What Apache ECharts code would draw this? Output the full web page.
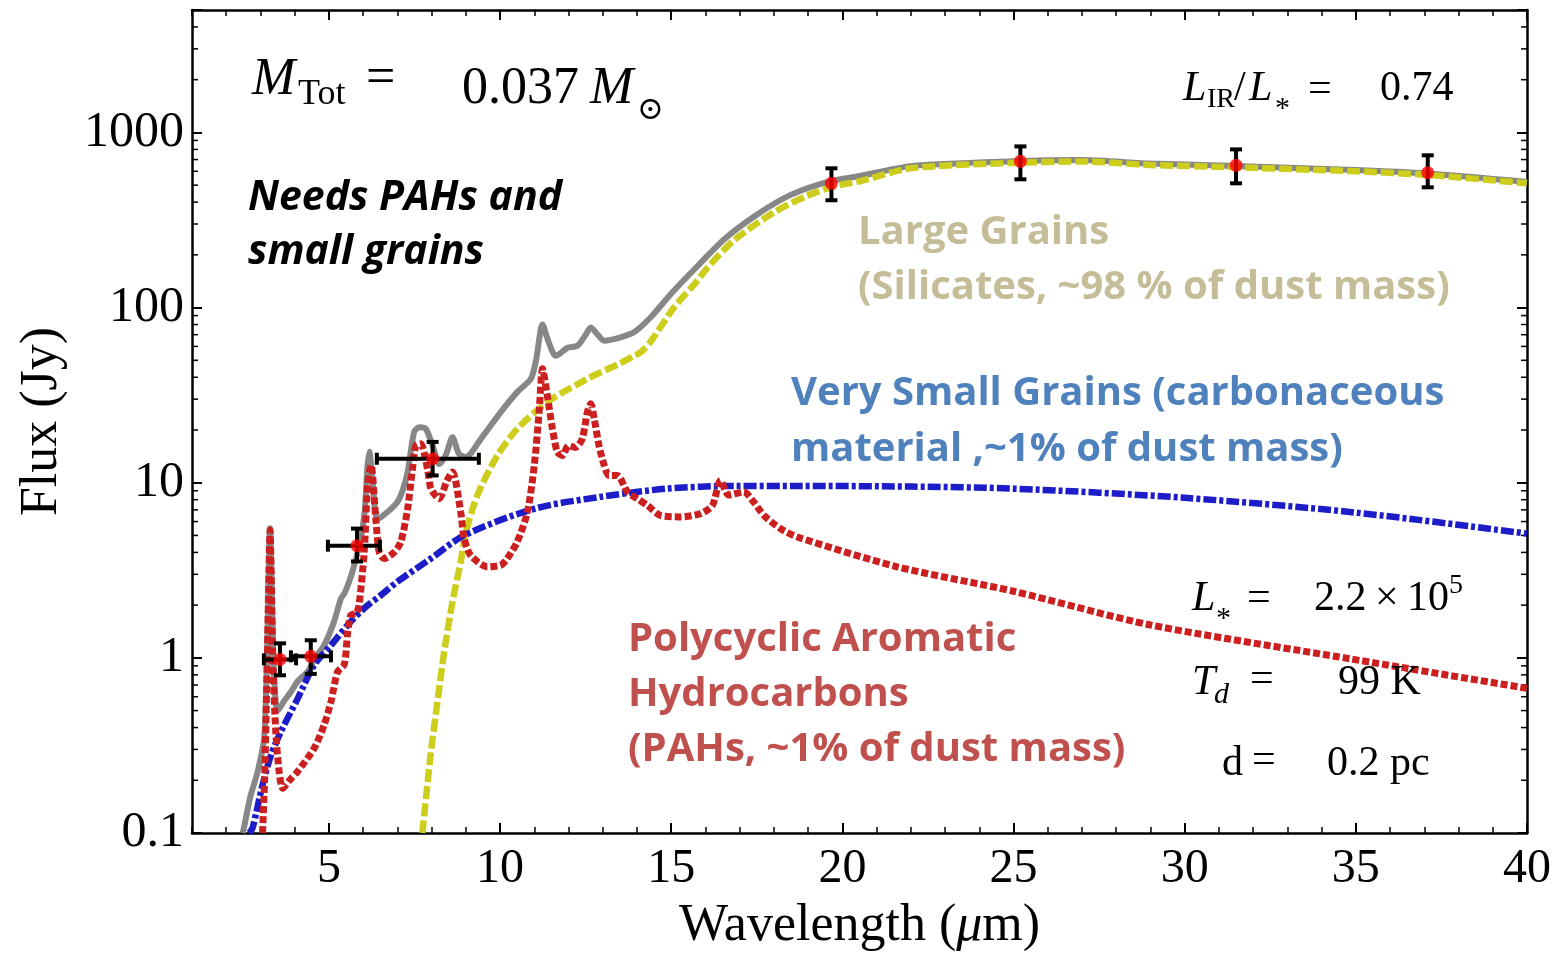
<!DOCTYPE html>
<html>
<head>
<meta charset="utf-8">
<script src="https://cdn.jsdelivr.net/npm/echarts@6/dist/echarts.min.js"></script>
<style>
  html, body { margin: 0; padding: 0; background: #ffffff; }
  #chart { width: 1560px; height: 957px; }
</style>
</head>
<body>
<div id="chart"></div>
<script>
// Total model SED (sum of all dust components), wavelength in micron, flux in Jy
const totalWave = [2.48, 2.53, 2.7, 2.92, 3.11, 3.2, 3.25, 3.28, 3.31, 3.36, 3.42, 3.5, 3.7, 3.89, 4.1, 4.38, 4.6, 4.86, 5.15, 5.35, 5.45, 5.59, 5.74, 5.93, 6.05, 6.12, 6.18, 6.28, 6.35, 6.42, 6.71, 7.0, 7.15, 7.3, 7.49, 7.64, 7.83, 8.03, 8.22, 8.41, 8.61, 8.8, 9.0, 9.44, 10.02, 10.5, 10.9, 11.05, 11.24, 11.4, 11.63, 11.97, 12.26, 12.5, 12.65, 12.85, 13.04, 13.52, 13.91, 14.4, 15.08, 15.86, 16.54, 17.51, 18.49, 19.7, 20.43, 22, 25, 27, 29, 31.5, 35, 37.1, 40];
const totalFlux = [0.1, 0.11, 0.16, 0.225, 0.35, 1.2, 3.7, 5.5, 3.8, 1.3, 0.65, 0.5, 0.57, 0.64, 0.74, 0.834, 1.0, 1.18, 1.61, 2.18, 2.33, 2.72, 3.38, 4.8, 7.0, 12.0, 15.0, 10.0, 7.0, 6.2, 6.8, 7.76, 9.0, 11.5, 19.5, 20.7, 20.3, 16.3, 12.8, 14.3, 18.2, 14.6, 14.0, 17.8, 25.3, 32.9, 39.2, 50, 80, 65, 53, 59, 60.5, 70, 77, 70, 64.7, 67.6, 72.2, 88, 125, 180, 245, 340, 440, 530, 560, 642, 684, 695, 664, 643, 610, 582, 521];

// Large grains (silicates)
const largeWave = [7.73, 7.98, 8.17, 8.37, 8.61, 8.85, 9.0, 9.34, 9.92, 10.5, 11.38, 12.55, 13.5, 13.91, 14.11, 14.4, 15.08, 15.76, 16.05, 16.83, 18.0, 18.97, 19.75, 20.53, 22, 25, 27, 29, 31.5, 35, 37.1, 40];
const largeFlux = [0.1, 0.29, 0.56, 1.09, 2.09, 3.53, 5.2, 8.5, 14.3, 20.3, 28.9, 39.2, 48, 53, 55.6, 64, 100, 142, 168, 242, 350, 435, 492, 528, 625, 670, 682, 652, 632, 600, 572, 512];

// Very small grains (carbonaceous)
const vsgWave = [2.67, 2.77, 3.06, 3.31, 3.6, 4.09, 4.57, 5.06, 5.55, 6.03, 6.52, 7.0, 7.98, 8.95, 11.0, 12.94, 14.89, 16.83, 18.78, 22, 25, 30, 35, 40];
const vsgFlux = [0.1, 0.107, 0.188, 0.279, 0.38, 0.587, 0.91, 1.18, 1.54, 1.92, 2.28, 2.72, 3.69, 5.0, 7.1, 8.3, 9.25, 9.58, 9.58, 9.5, 9.25, 8.2, 6.75, 5.12];

// Polycyclic aromatic hydrocarbons
const pahWave = [3.06, 3.12, 3.2, 3.25, 3.28, 3.31, 3.36, 3.45, 3.55, 3.65, 3.85, 4.09, 4.57, 4.86, 5.06, 5.25, 5.45, 5.55, 5.64, 5.8, 5.88, 6.03, 6.13, 6.23, 6.37, 6.47, 6.61, 6.9, 7.1, 7.3, 7.44, 7.54, 7.68, 7.88, 7.98, 8.22, 8.45, 8.61, 8.85, 8.95, 9.14, 9.63, 10.02, 10.21, 10.5, 10.8, 11.0, 11.14, 11.24, 11.38, 11.53, 11.67, 11.82, 12.0, 12.2, 12.4, 12.55, 12.65, 12.75, 12.89, 13.04, 13.18, 13.43, 13.72, 14.01, 14.3, 14.69, 15.27, 15.86, 16.2, 16.44, 16.68, 17.12, 17.41, 17.71, 18.19, 18.68, 21.6, 25, 29, 34.8, 40];
const pahFlux = [0.1, 0.2, 1.0, 3.2, 5.35, 3.2, 1.0, 0.37, 0.22, 0.18, 0.2, 0.225, 0.305, 0.414, 0.562, 0.83, 0.92, 1.41, 1.75, 1.8, 2.0, 4.0, 9.7, 12.6, 6.2, 4.0, 3.69, 4.0, 4.59, 7.1, 12.0, 16.3, 16.7, 12.0, 9.25, 8.1, 10.3, 11.5, 6.8, 4.8, 3.85, 3.31, 3.38, 3.69, 4.59, 6.8, 12.6, 25.3, 44.7, 31.4, 20.3, 15.0, 14.3, 16.3, 15.9, 17.8, 25.3, 28.2, 23.2, 16.3, 12.6, 11.0, 11.0, 8.85, 8.1, 7.43, 6.5, 6.38, 6.66, 7.4, 10.3, 8.5, 8.85, 7.76, 6.5, 5.47, 4.9, 3.31, 2.4, 1.54, 0.99, 0.67];

// Photometry with error bars (null: no wavelength range)
const obsWave   = [3.57, 4.47, 5.82, 8.03, 19.68, 25.2, 31.5, 37.1];
const obsFlux   = [0.98, 1.02, 4.37, 13.7, 512, 684, 649, 589];
const obsWaveLo = [3.10, 3.89, 4.97, 6.40, null, null, null, null];
const obsWaveHi = [4.04, 5.06, 6.49, 9.38, null, null, null, null];
const obsFluxLo = [0.795, 0.81, 3.55, 11.0, 410, 540, 512, 486];
const obsFluxHi = [1.21, 1.26, 5.47, 17.1, 624, 832, 800, 740];

// Axis ticks
const xTickValues = [5, 10, 15, 20, 25, 30, 35, 40];
const yTickValues = [0.1, 1, 10, 100, 1000];
const yMinorTickValues = [0.2, 0.3, 0.4, 0.5, 0.6, 0.7, 0.8, 0.9,
  2, 3, 4, 5, 6, 7, 8, 9, 20, 30, 40, 50, 60, 70, 80, 90,
  200, 300, 400, 500, 600, 700, 800, 900, 2000, 3000, 4000];

const pairs = (xs, ys) => xs.map((x, i) => [x, ys[i]]);

const SERIF = '"Liberation Serif", "DejaVu Serif", serif';
const SANS = '"Open Sans", Lato, sans-serif';

function fmtY(v) {
  const hit = yTickValues.find(t => Math.abs(Math.log10(v) - Math.log10(t)) < 1e-6);
  return hit == null ? '' : String(hit);
}

// text piece positioned by its left edge and baseline
function piece(left, baseline, text, size, opts) {
  opts = opts || {};
  const fam = opts.family || SERIF;
  const k = fam === SANS ? 0.27 : 0.3375;
  return {
    type: 'text',
    x: left,
    y: baseline - k * size,
    silent: true,
    z: 100,
    style: {
      text: text,
      font: (opts.italic ? 'italic ' : 'normal ') + (opts.bold ? 'bold ' : 'normal ') + size + 'px ' + fam,
      fill: opts.color || '#000000',
      textAlign: 'left',
      verticalAlign: 'middle'
    }
  };
}

const TAN = '#c4bd97', BLUE_T = '#4f81bd', RED_T = '#c0504d';
const NOTE = 40;
const graphics = [
  // M_Tot = 0.037 M_sun
  piece(252, 98, 'M', 52, { italic: true }),
  piece(298, 107, 'Tot', 36),
  piece(366, 97, '=', 52),
  piece(462, 107, '0.037', 52),
  piece(590, 107, 'M', 52, { italic: true }),
  piece(637, 121, '\u2299', 32),
  // L_IR / L_* = 0.74
  piece(1183, 103, 'L', 42, { italic: true }),
  piece(1207, 109, 'IR', 28),
  piece(1234, 103, '/', 42),
  piece(1249, 103, 'L', 42, { italic: true }),
  piece(1275, 119, '*', 30),
  piece(1308, 104, '=', 42),
  piece(1380, 103, '0.74', 42),
  // L_* = 2.2 x 10^5
  piece(1192, 613, 'L', 42, { italic: true }),
  piece(1216, 629, '*', 30),
  piece(1247, 613, '=', 42),
  piece(1314, 613, '2.2\u2009\u00d7\u200910', 42),
  piece(1449, 595, '5', 28),
  // T_d = 99 K
  piece(1192, 697, 'T', 42, { italic: true }),
  piece(1214, 705, 'd', 30, { italic: true }),
  piece(1250, 694, '=', 42),
  piece(1338, 697, '99 K', 42),
  // d = 0.2 pc
  piece(1222, 778, 'd', 42),
  piece(1252, 775, '=', 42),
  piece(1327, 778, '0.2 pc', 42),
  // notes
  piece(248, 209, 'Needs PAHs and', 41, { family: SANS, bold: true, italic: true }),
  piece(248, 263, 'small grains', 41, { family: SANS, bold: true, italic: true }),
  piece(858, 243, 'Large Grains', NOTE, { family: SANS, bold: true, color: TAN }),
  piece(858, 298, '(Silicates, ~98 % of dust mass)', NOTE, { family: SANS, bold: true, color: TAN }),
  piece(791, 404, 'Very Small Grains (carbonaceous', NOTE, { family: SANS, bold: true, color: BLUE_T }),
  piece(791, 460, 'material ,~1% of dust mass)', NOTE, { family: SANS, bold: true, color: BLUE_T }),
  piece(628, 650, 'Polycyclic Aromatic', NOTE, { family: SANS, bold: true, color: RED_T }),
  piece(628, 705, 'Hydrocarbons', NOTE, { family: SANS, bold: true, color: RED_T }),
  piece(628, 760, '(PAHs, ~1% of dust mass)', NOTE, { family: SANS, bold: true, color: RED_T })
];

const frameLine = { show: true, onZero: false, lineStyle: { color: '#000', width: 2.5 } };
const majorTick = { show: true, inside: true, length: 10, lineStyle: { color: '#000', width: 2 } };
const minorTickLine = { show: true, inside: true, length: 6, lineStyle: { color: '#000', width: 1.5 } };
const nameStyle = {
  color: '#000', fontFamily: SERIF, fontSize: 52,
  rich: { i: { fontFamily: SERIF, fontSize: 52, fontStyle: 'italic', color: '#000' } }
};

function xMajor(pos, withLabels) {
  return {
    type: 'value', position: pos, min: 1, max: 40,
    axisLine: frameLine,
    axisTick: Object.assign({}, majorTick, { customValues: xTickValues }),
    axisLabel: withLabels ? {
      customValues: xTickValues, color: '#000', fontFamily: SERIF, fontSize: 48, margin: 12
    } : { show: false },
    splitLine: { show: false },
    name: withLabels ? 'Wavelength ({i|\u03bc}m)' : '',
    nameLocation: 'middle',
    nameGap: 67,
    nameTextStyle: nameStyle
  };
}
function xMinor(pos) {
  return {
    type: 'value', position: pos, min: 1, max: 40, interval: 1,
    axisLine: { show: false, onZero: false },
    axisTick: minorTickLine,
    axisLabel: { show: false },
    splitLine: { show: false }
  };
}
function yLog(pos, withLabels) {
  return {
    type: 'log', logBase: 10, position: pos, min: 0.1, max: 5000,
    axisLine: frameLine,
    axisTick: majorTick,
    minorTick: { show: false },
    axisLabel: withLabels ? {
      color: '#000', fontFamily: SERIF, fontSize: 50, margin: 8, formatter: fmtY
    } : { show: false },
    splitLine: { show: false },
    name: withLabels ? 'Flux (Jy)' : '',
    nameLocation: 'middle',
    nameRotate: 90,
    nameGap: 124,
    nameTextStyle: nameStyle
  };
}

const chart = echarts.init(document.getElementById('chart'), null, { renderer: 'canvas' });

chart.setOption({
  backgroundColor: '#ffffff',
  animation: false,
  grid: { left: 192, right: 33, top: 10, bottom: 122, containLabel: false },
  xAxis: [xMajor('bottom', true), xMinor('bottom'), xMajor('top', false), xMinor('top')],
  yAxis: [yLog('left', true), yLog('right', false)],
  graphic: graphics,
  series: [
    {
      // minor ticks of the logarithmic flux axis, left and right frame
      type: 'custom', xAxisIndex: 0, yAxisIndex: 0, silent: true, clip: false, z: 1,
      data: yMinorTickValues.map(v => [1, v]),
      renderItem: function (params, api) {
        const v = api.value(1);
        const pl = api.coord([1, v]);
        const pr = api.coord([40, v]);
        const st = { stroke: '#000', lineWidth: 1.5 };
        return {
          type: 'group',
          children: [
            { type: 'line', shape: { x1: pl[0], y1: pl[1], x2: pl[0] + 6, y2: pl[1] }, style: st },
            { type: 'line', shape: { x1: pr[0], y1: pr[1], x2: pr[0] - 6, y2: pr[1] }, style: st }
          ]
        };
      }
    },
    {
      name: 'Total', type: 'line', data: pairs(totalWave, totalFlux),
      showSymbol: false, smooth: 0.25, clip: true, z: 2,
      lineStyle: { color: '#878787', width: 6, type: 'solid' }
    },
    {
      name: 'Large Grains', type: 'line', data: pairs(largeWave, largeFlux),
      showSymbol: false, smooth: 0.25, clip: true, z: 3,
      lineStyle: { color: '#cdcd1c', width: 6.5, type: [13, 4], cap: 'butt' }
    },
    {
      name: 'Very Small Grains', type: 'line', data: pairs(vsgWave, vsgFlux),
      showSymbol: false, smooth: 0.3, clip: true, z: 4,
      lineStyle: { color: '#1c1cc8', width: 6.5, type: [13, 3, 4, 3], cap: 'butt' }
    },
    {
      name: 'PAHs', type: 'line', data: pairs(pahWave, pahFlux),
      showSymbol: false, smooth: 0.25, clip: true, z: 5,
      lineStyle: { color: '#cc1f1f', width: 7, type: [7, 3], cap: 'butt' }
    },
    {
      // error bars of the photometry
      type: 'custom', xAxisIndex: 0, yAxisIndex: 0, silent: true, clip: false, z: 6,
      data: pairs(obsWave, obsFlux),
      renderItem: function (params, api) {
        const i = params.dataIndex;
        const st = { stroke: '#000', lineWidth: 4 };
        const cap = 6;
        const c = api.coord([obsWave[i], obsFlux[i]]);
        const lo = api.coord([obsWave[i], obsFluxLo[i]]);
        const hi = api.coord([obsWave[i], obsFluxHi[i]]);
        const ch = [
          { type: 'line', shape: { x1: c[0], y1: lo[1], x2: c[0], y2: hi[1] }, style: st },
          { type: 'line', shape: { x1: c[0] - cap, y1: lo[1], x2: c[0] + cap, y2: lo[1] }, style: st },
          { type: 'line', shape: { x1: c[0] - cap, y1: hi[1], x2: c[0] + cap, y2: hi[1] }, style: st }
        ];
        if (obsWaveLo[i] != null) {
          const l = api.coord([obsWaveLo[i], obsFlux[i]]);
          const r = api.coord([obsWaveHi[i], obsFlux[i]]);
          ch.push(
            { type: 'line', shape: { x1: l[0], y1: c[1], x2: r[0], y2: c[1] }, style: st },
            { type: 'line', shape: { x1: l[0], y1: c[1] - cap, x2: l[0], y2: c[1] + cap }, style: st },
            { type: 'line', shape: { x1: r[0], y1: c[1] - cap, x2: r[0], y2: c[1] + cap }, style: st }
          );
        }
        return { type: 'group', children: ch };
      }
    },
    {
      name: 'Photometry', type: 'scatter', data: pairs(obsWave, obsFlux),
      symbol: 'circle', symbolSize: 13, z: 7,
      itemStyle: { color: '#ff0000' }
    }
  ]
});
</script>
</body>
</html>
